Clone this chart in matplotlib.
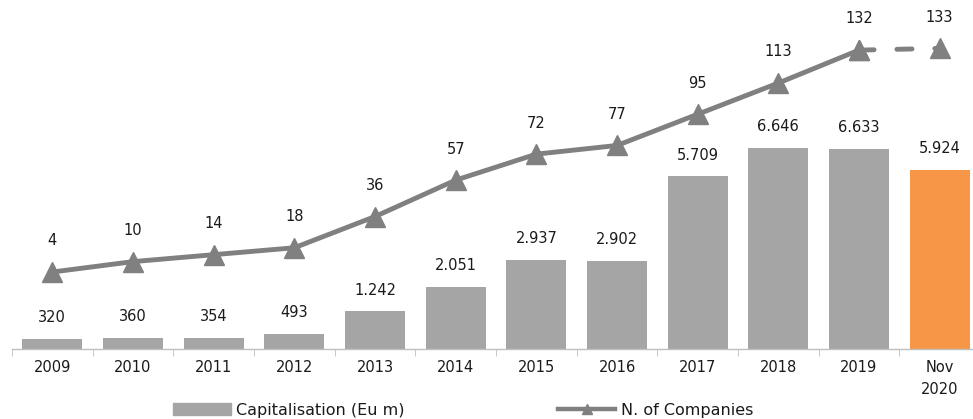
import matplotlib.pyplot as plt
import numpy as np
from matplotlib.lines import Line2D
from matplotlib.patches import Patch

plt.rcParams['font.family'] = ['DejaVu Sans']

years = ["2009", "2010", "2011", "2012", "2013", "2014", "2015", "2016",
         "2017", "2018", "2019", "Nov\n2020"]
capitalisation = [320, 360, 354, 493, 1242, 2051, 2937, 2902, 5709, 6646, 6633, 5924]
companies = [4, 10, 14, 18, 36, 57, 72, 77, 95, 113, 132, 133]

bar_grey = "#A5A5A5"
bar_orange = "#F79646"
line_grey = "#808080"
txt = "#1a1a1a"

def fmt(v):
    return f"{v:,}".replace(",", ".")

fig = plt.figure(figsize=(9.73, 4.19), dpi=100)
W, H = 973, 419
ax = fig.add_axes([12 / W, 70 / H, 968 / W, 349 / H])
x = np.arange(len(years))

colors = [bar_grey] * (len(years) - 1) + [bar_orange]
ax.bar(x, capitalisation, width=0.74, color=colors, zorder=2)
ax.set_ylim(0, 11550)
ax.set_xlim(-0.5, len(years) - 0.5)
for xi, v in zip(x, capitalisation):
    ax.annotate(fmt(v), (xi, v), xytext=(0, 10), textcoords="offset points",
                ha="center", va="bottom", fontsize=10.5, color=txt)

ax2 = ax.twinx()
ax2.set_ylim(-40.4, 160.9)
ax2.plot(x[:-1], companies[:-1], color=line_grey, lw=3.5, marker="^",
         markersize=14, zorder=3)
ax2.plot(x[-2:], companies[-2:], color=line_grey, lw=3.5, ls=(0, (3.1, 4.7)),
         dash_capstyle="round", marker="^", markersize=14, zorder=3)
for xi, v in zip(x, companies):
    ax2.annotate(str(v), (xi, v), xytext=(0, 17), textcoords="offset points",
                 ha="center", va="bottom", fontsize=10.5, color=txt)

for a in (ax, ax2):
    for s in ("top", "left", "right"):
        a.spines[s].set_visible(False)
    a.set_yticks([])
ax.spines["bottom"].set_color("#BFBFBF")
ax.spines["bottom"].set_linewidth(1.0)
ax2.spines["bottom"].set_visible(False)

ax.set_xticks(x)
ax.set_xticklabels(years, fontsize=10.5, color=txt, linespacing=1.6)
ax.tick_params(axis="x", which="major", length=0, pad=8)
ax.set_xticks(np.arange(-0.5, len(years) - 0.5, 1.0), minor=True)
ax.tick_params(axis="x", which="minor", length=5, color="#BFBFBF")

handles = [Patch(color=bar_grey),
           Line2D([0], [0], color=line_grey, lw=3.2, marker="^", markersize=7)]
fig.legend(handles, ["Capitalisation (Eu m)", "N. of Companies"],
           loc="center left", bbox_to_anchor=(173 / W, 9 / H), ncol=2, frameon=False,
           fontsize=11.5, handlelength=3.6, handleheight=0.8, columnspacing=9.6,
           handletextpad=0.35, borderpad=0, borderaxespad=0, labelcolor=txt)

fig.savefig("out.png", dpi=100)
